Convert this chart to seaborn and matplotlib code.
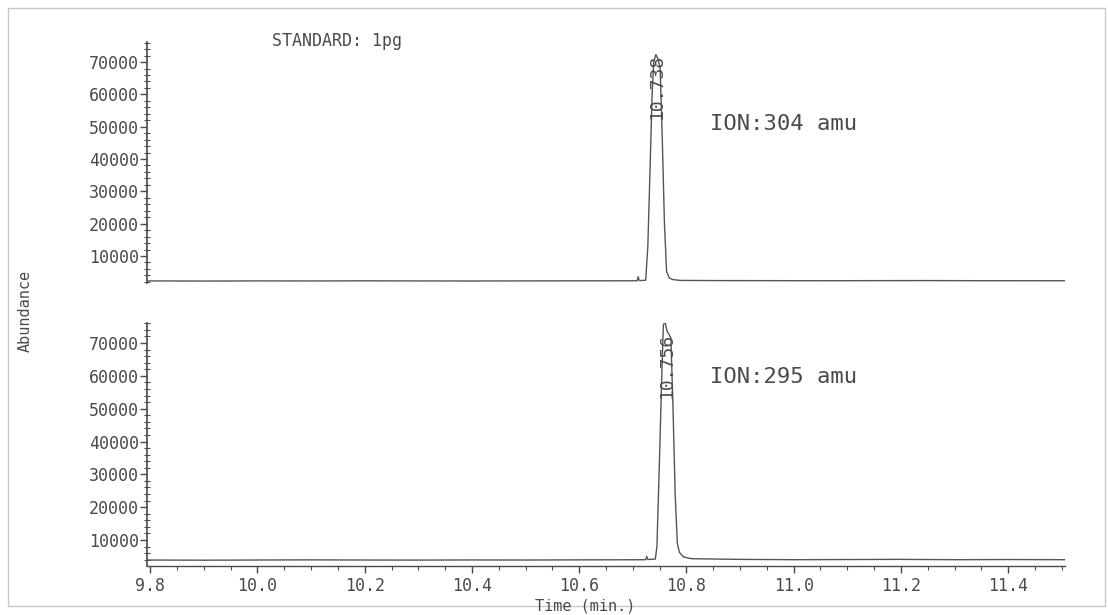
import pandas as pd
import matplotlib.pyplot as plt
import seaborn as sns
from matplotlib.ticker import MultipleLocator, FixedLocator
from matplotlib.patches import Rectangle

# chromatogram traces (time in min, abundance)
time_304 = [9.794, 9.90, 10.00, 10.10, 10.20, 10.30, 10.40, 10.50, 10.60, 10.700,
            10.708, 10.710, 10.712, 10.724, 10.728, 10.732, 10.736, 10.739, 10.743,
            10.747, 10.751, 10.755, 10.759, 10.763, 10.768, 10.775, 10.788, 10.85,
            10.95, 11.05, 11.15, 11.25, 11.35, 11.45, 11.506]
abund_304 = [2300, 2250, 2300, 2280, 2320, 2290, 2270, 2300, 2320, 2340,
             2350, 3600, 2400, 2500, 13000, 36000, 60000, 70000, 72300,
             71000, 68000, 46000, 20000, 5200, 3200, 2700, 2450, 2400,
             2380, 2350, 2380, 2400, 2360, 2350, 2350]

time_295 = [9.794, 9.90, 10.00, 10.10, 10.20, 10.30, 10.40, 10.50, 10.60, 10.700,
            10.724, 10.726, 10.728, 10.742, 10.745, 10.750, 10.754, 10.757, 10.760,
            10.764, 10.768, 10.771, 10.775, 10.779, 10.783, 10.787, 10.795, 10.81,
            10.90, 11.00, 11.10, 11.20, 11.30, 11.40, 11.506]
abund_295 = [3900, 3850, 3900, 3950, 3900, 3880, 3920, 3900, 3950, 3980,
             4000, 5000, 4050, 4200, 8000, 36000, 60000, 75500, 76500,
             73500, 72500, 71500, 50000, 24000, 9000, 6200, 4800, 4300,
             4100, 4000, 4050, 4100, 4000, 4050, 4000]

rt_labels = ["10.738", "10.756"]
rt_pos = [10.745, 10.764]
rt_top = [72500, 73200]
ion_labels = ["ION:304 amu", "ION:295 amu"]
ion_y = [124, 377]
y_ticks = [10000, 20000, 30000, 40000, 50000, 60000, 70000]
x_ticks = [9.8, 10.0, 10.2, 10.4, 10.6, 10.8, 11.0, 11.2, 11.4]

sns.set_style("ticks")
plt.rcParams['font.family'] = ['DejaVu Sans Mono', 'DejaVu Sans']
ink = "#4a4a4a"
plt.rcParams.update({
    "text.color": ink, "axes.edgecolor": ink,
    "xtick.color": ink, "ytick.color": ink,
    "axes.labelcolor": ink,
})

fig = plt.figure(figsize=(11.08, 6.15), dpi=100)
ax1 = fig.add_axes([147 / 1108, 1 - 283 / 615, 918 / 1108, 241 / 615])
ax2 = fig.add_axes([147 / 1108, 1 - 566 / 615, 918 / 1108, 243 / 615])

df1 = pd.DataFrame({"t": time_304, "a": abund_304})
df2 = pd.DataFrame({"t": time_295, "a": abund_295})
sns.lineplot(data=df1, x="t", y="a", ax=ax1, color="#555555", linewidth=1.0)
sns.lineplot(data=df2, x="t", y="a", ax=ax2, color="#555555", linewidth=1.0)

ax1.set_ylim(1650, 76200)
ax2.set_ylim(2080, 76100)
for ax in (ax1, ax2):
    ax.set_xlim(9.794, 11.506)
    ax.set_xlabel("")
    ax.set_ylabel("")
    ax.set_facecolor("none")
    ax.spines["top"].set_visible(False)
    ax.spines["right"].set_visible(False)
    ax.spines["left"].set_linewidth(1.2)
    ax.yaxis.set_major_locator(FixedLocator(y_ticks))
    ax.yaxis.set_minor_locator(MultipleLocator(2000))
    ax.yaxis.set_major_formatter(plt.FuncFormatter(lambda v, p: f"{int(v)}"))
    ax.tick_params(axis="y", which="major", length=5, width=1, direction="out",
                   labelsize=12, pad=1)
    ax.tick_params(axis="y", which="minor", length=4, width=0.8, direction="inout")

ax1.spines["bottom"].set_visible(False)
ax1.set_xticks([])

ax2.spines["bottom"].set_linewidth(1.0)
ax2.xaxis.set_major_locator(FixedLocator(x_ticks))
ax2.xaxis.set_minor_locator(MultipleLocator(0.05))
ax2.set_xticklabels([f"{v:.1f}" for v in x_ticks])
ax2.tick_params(axis="x", which="major", length=5, width=1, direction="out",
                labelsize=12, pad=3)
ax2.tick_params(axis="x", which="minor", length=3, width=0.8, direction="out")

for ax, lab, xp, yp in zip((ax1, ax2), rt_labels, rt_pos, rt_top):
    ax.text(xp, yp, lab, rotation=90, ha="center", va="top", fontsize=13)

for ion, yy in zip(ion_labels, ion_y):
    fig.text(710 / 1108, 1 - yy / 615, ion, fontsize=16, va="center", ha="left")

fig.text(272 / 1108, 1 - 41 / 615, "STANDARD: 1pg", fontsize=12, va="center", ha="left")
fig.text(25 / 1108, 1 - 311 / 615, "Abundance", rotation=90, fontsize=11,
         va="center", ha="center")
fig.text(585 / 1108, 1 - 606 / 615, "Time (min.)", fontsize=11,
         va="center", ha="center")

# faint page border of the scan
fig.patches.append(Rectangle((8 / 1108, 9 / 615), 1097 / 1108, 598 / 615,
                             transform=fig.transFigure, fill=False,
                             edgecolor="#c8c8c8", linewidth=1))

fig.savefig("out.png", dpi=100, facecolor="white")
